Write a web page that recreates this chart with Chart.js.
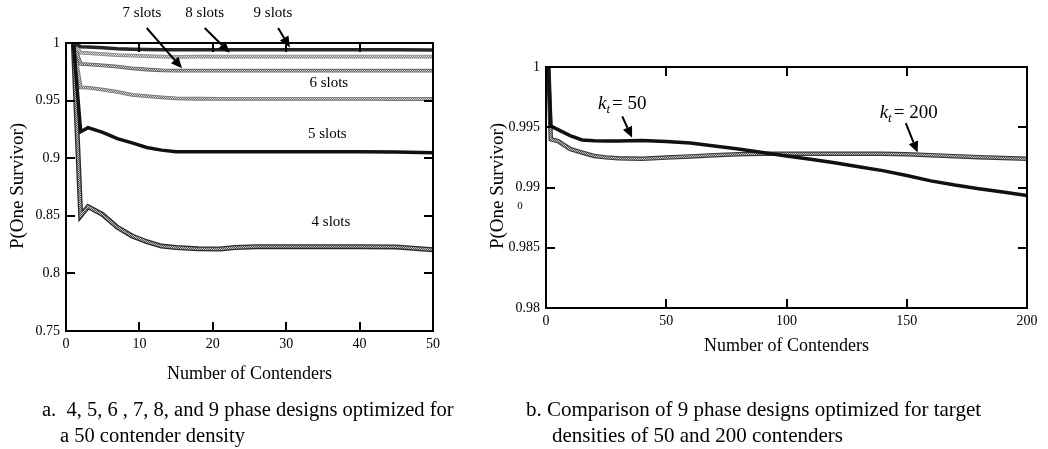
<!DOCTYPE html>
<html>
<head>
<meta charset="utf-8">
<script src="https://cdn.jsdelivr.net/npm/chart.js@4/dist/chart.umd.min.js"></script>
<style>
  html, body { margin: 0; padding: 0; background: #fff; }
  body { width: 1048px; height: 449px; position: relative; overflow: hidden; font-family: "Liberation Serif", "Times New Roman", serif; color: #000; }
  .box { position: absolute; }
  .cap { position: absolute; font-size: 20.5px; white-space: pre; line-height: 26px; }
  .capb { font-size: 21px; }
</style>
</head>
<body>
<div class="box" id="boxA" style="left:0;top:0;width:524px;height:449px;"><canvas id="chartA"></canvas></div>
<div class="box" id="boxB" style="left:480px;top:0;width:568px;height:449px;"><canvas id="chartB"></canvas></div>
<div class="cap" style="left:42px;top:396px;">a.  4, 5, 6 , 7, 8, and 9 phase designs optimized for</div>
<div class="cap" style="left:60px;top:422px;">a 50 contender density</div>
<div class="cap capb" style="left:526px;top:396px;">b. Comparison of 9 phase designs optimized for target</div>
<div class="cap capb" style="left:552px;top:422px;">densities of 50 and 200 contenders</div>
<script>
// ---------- Chart a data ----------
const contendersA = [1, 2, 3, 5, 7, 9, 11, 13, 15, 18, 21, 23, 26, 30, 35, 40, 45, 50];
const slots4 = [1, 0.850, 0.858, 0.851, 0.840, 0.8325, 0.8275, 0.8237, 0.8225, 0.8213, 0.8212, 0.8225, 0.8232, 0.8232, 0.8232, 0.8232, 0.8230, 0.8205];
const slots5 = [1, 0.923, 0.9265, 0.9225, 0.917, 0.9133, 0.9093, 0.907, 0.9057, 0.9055, 0.9055, 0.9055, 0.9055, 0.9055, 0.9055, 0.9055, 0.9053, 0.9048];
const slots6 = [1, 0.9615, 0.9612, 0.9595, 0.9575, 0.955, 0.9538, 0.9528, 0.952, 0.9516, 0.9515, 0.9515, 0.9515, 0.9515, 0.9515, 0.9515, 0.9514, 0.9514];
const slots7 = [1, 0.9818, 0.9815, 0.9805, 0.9795, 0.978, 0.977, 0.9763, 0.976, 0.976, 0.976, 0.976, 0.976, 0.976, 0.976, 0.976, 0.976, 0.976];
const slots8 = [1, 0.9916, 0.9912, 0.9903, 0.9895, 0.989, 0.9886, 0.9882, 0.988, 0.9881, 0.9882, 0.9882, 0.9882, 0.9882, 0.9882, 0.9882, 0.9882, 0.9882];
const slots9 = [1, 0.9968, 0.9965, 0.9958, 0.995, 0.9946, 0.9944, 0.9942, 0.9942, 0.9942, 0.9942, 0.9942, 0.9942, 0.9942, 0.9942, 0.9942, 0.9941, 0.9940];
const xTicksA = [0, 10, 20, 30, 40, 50];
const yTicksA = [0.75, 0.8, 0.85, 0.9, 0.95, 1];
const yLabelsA = ["0.75", "0.8", "0.85", "0.9", "0.95", "1"];

// ---------- Chart b data ----------
const contendersB = [1, 2, 5, 10, 15, 20, 25, 30, 40, 50, 60, 70, 80, 90, 100, 110, 120, 130, 140, 150, 160, 170, 180, 190, 200];
const kt50 = [1, 0.9951, 0.9948, 0.9943, 0.99395, 0.99388, 0.99385, 0.99386, 0.9939, 0.99382, 0.9937, 0.99345, 0.9932, 0.9929, 0.99262, 0.99235, 0.99205, 0.99172, 0.9914, 0.9910, 0.99055, 0.9902, 0.9899, 0.98962, 0.98933];
const kt200 = [1, 0.9940, 0.99385, 0.9932, 0.9929, 0.99262, 0.9925, 0.99242, 0.99238, 0.99248, 0.99258, 0.99268, 0.99276, 0.9928, 0.9928, 0.9928, 0.9928, 0.9928, 0.9928, 0.99276, 0.99268, 0.9926, 0.99252, 0.99245, 0.99238];
const xTicksB = [0, 50, 100, 150, 200];
const yTicksB = [0.98, 0.985, 0.99, 0.995, 1];
const yLabelsB = ["0.98", "0.985", "0.99", "0.995", "1"];

const FONT = '"Liberation Serif", "Times New Roman", serif';
Chart.defaults.font.family = FONT;
Chart.defaults.color = '#000';

function dither(c1, c2) {
  const p = document.createElement('canvas');
  p.width = 2; p.height = 2;
  const g = p.getContext('2d');
  g.fillStyle = c1; g.fillRect(0, 0, 2, 2);
  g.fillStyle = c2; g.fillRect(0, 0, 1, 1); g.fillRect(1, 1, 1, 1);
  return g.createPattern(p, 'repeat');
}
const pts = (xs, ys) => xs.map((x, i) => ({ x: x, y: ys[i] }));

function solid(xs, ys, color, w, order) {
  return { data: pts(xs, ys), borderColor: color, borderWidth: w, pointRadius: 0, tension: 0, order: order, fill: false };
}
function grayLine(xs, ys, edge, inner, ew, iw, order) {
  return [solid(xs, ys, edge, ew, order + 0.5), solid(xs, ys, inner, iw, order)];
}

function frameAndTicks(chart, xTicks, yTicks) {
  const { ctx, chartArea: a, scales: { x, y } } = chart;
  ctx.save();
  ctx.strokeStyle = '#000';
  ctx.lineWidth = 2;
  ctx.strokeRect(a.left, a.top, a.right - a.left, a.bottom - a.top);
  const L = 9;
  ctx.beginPath();
  xTicks.forEach(v => {
    const px = Math.round(x.getPixelForValue(v));
    if (px <= a.left + 2 || px >= a.right - 2) return;
    ctx.moveTo(px, a.top); ctx.lineTo(px, a.top + L);
    ctx.moveTo(px, a.bottom); ctx.lineTo(px, a.bottom - L);
  });
  yTicks.forEach(v => {
    const py = Math.round(y.getPixelForValue(v));
    if (py <= a.top + 2 || py >= a.bottom - 2) return;
    ctx.moveTo(a.left, py); ctx.lineTo(a.left + L, py);
    ctx.moveTo(a.right, py); ctx.lineTo(a.right - L, py);
  });
  ctx.stroke();
  ctx.restore();
}

function arrow(ctx, x1, y1, x2, y2) {
  const ang = Math.atan2(y2 - y1, x2 - x1);
  const hl = 11, hw = 5;
  const bx = x2 - hl * Math.cos(ang), by = y2 - hl * Math.sin(ang);
  ctx.save();
  ctx.strokeStyle = '#000'; ctx.fillStyle = '#000'; ctx.lineWidth = 2;
  ctx.beginPath(); ctx.moveTo(x1, y1); ctx.lineTo(bx, by); ctx.stroke();
  ctx.beginPath();
  ctx.moveTo(x2, y2);
  ctx.lineTo(bx + hw * Math.sin(ang), by - hw * Math.cos(ang));
  ctx.lineTo(bx - hw * Math.sin(ang), by + hw * Math.cos(ang));
  ctx.closePath(); ctx.fill();
  ctx.restore();
}

function text(ctx, s, x, y, size, align, style) {
  ctx.save();
  ctx.font = (style || '') + ' ' + size + 'px ' + FONT;
  ctx.fillStyle = '#000';
  ctx.textAlign = align || 'center';
  ctx.textBaseline = 'middle';
  ctx.fillText(s, x, y);
  ctx.restore();
}
function vtext(ctx, s, x, y, size) {
  ctx.save();
  ctx.translate(x, y); ctx.rotate(-Math.PI / 2);
  ctx.font = size + 'px ' + FONT;
  ctx.fillStyle = '#000';
  ctx.textAlign = 'center'; ctx.textBaseline = 'middle';
  ctx.fillText(s, 0, 0);
  ctx.restore();
}
function ktLabel(ctx, value, cx, cy) {
  ctx.save();
  ctx.fillStyle = '#000';
  ctx.textBaseline = 'alphabetic';
  const fk = 'italic 19px ' + FONT, ft = 'italic 13px ' + FONT, fr = '19px ' + FONT;
  ctx.font = fk; const wk = ctx.measureText('k').width;
  ctx.font = ft; const wt = ctx.measureText('t').width;
  ctx.font = fr; const rest = '= ' + value; const wr = ctx.measureText(rest).width;
  const total = wk + wt + 2 + wr;
  let x = cx - total / 2; const base = cy + 6;
  ctx.font = fk; ctx.fillText('k', x, base); x += wk;
  ctx.font = ft; ctx.fillText('t', x, base + 4); x += wt + 2;
  ctx.font = fr; ctx.fillText(rest, x, base);
  ctx.restore();
}

function scaleOpts(min, max, ticks, labels, isY, fixed) {
  return {
    type: 'linear', min: min, max: max,
    grid: { display: false, drawTicks: false },
    border: { display: false },
    ticks: {
      font: { size: 14 }, color: '#000', padding: isY ? 6 : 5,
      autoSkip: false, maxRotation: 0,
      callback: (v) => { const i = ticks.indexOf(v); return labels ? (i >= 0 ? labels[i] : '') : String(v); }
    },
    afterBuildTicks: (s) => { s.ticks = ticks.map(v => ({ value: v })); },
    afterFit: (s) => { if (isY) s.width = fixed; else s.height = fixed; }
  };
}

const ctxA = document.getElementById('chartA').getContext('2d');
const setA = [
  ...grayLine(contendersA, slots8, '#8a8a8a', dither('#8a8a8a', '#d8d8d8'), 3.8, 2, 6),
  solid(contendersA, slots9, '#262626', 3.5, 1),
  ...grayLine(contendersA, slots7, '#6a6a6a', dither('#666', '#cccccc'), 3.8, 2, 7),
  ...grayLine(contendersA, slots6, '#7a7a7a', dither('#777', '#d2d2d2'), 3.8, 2, 8),
  solid(contendersA, slots5, '#111', 3.5, 2),
  ...grayLine(contendersA, slots4, '#2a2a2a', dither('#555', '#c4c4c4'), 5, 2.4, 3)
];

new Chart(ctxA, {
  type: 'line',
  data: { datasets: setA },
  options: {
    responsive: true, maintainAspectRatio: false, animation: false,
    layout: { padding: { left: 0, top: 43, right: 91, bottom: 88 } },
    plugins: { legend: { display: false }, tooltip: { enabled: false } },
    scales: {
      x: scaleOpts(0, 50, xTicksA, null, false, 30),
      y: scaleOpts(0.75, 1, yTicksA, yLabelsA, true, 66)
    }
  },
  plugins: [{
    id: 'decorA',
    afterDatasetsDraw(chart) {
      const { ctx, chartArea: a, scales: { x, y } } = chart;
      frameAndTicks(chart, xTicksA, yTicksA);
      const P = (vx, vy) => [x.getPixelForValue(vx), y.getPixelForValue(vy)];
      let p;
      p = P(10.35, 1.026); text(ctx, '7 slots', p[0], p[1], 15);
      p = P(18.9, 1.026); text(ctx, '8 slots', p[0], p[1], 15);
      p = P(28.2, 1.026); text(ctx, '9 slots', p[0], p[1], 15);
      p = P(35.8, 0.9653); text(ctx, '6 slots', p[0], p[1], 15);
      p = P(35.6, 0.921); text(ctx, '5 slots', p[0], p[1], 15);
      p = P(36.1, 0.8446); text(ctx, '4 slots', p[0], p[1], 15);
      let s, e;
      s = P(11.0, 1.013); e = P(15.8, 0.978); arrow(ctx, s[0], s[1], e[0], e[1]);
      s = P(18.9, 1.013); e = P(22.3, 0.9915); arrow(ctx, s[0], s[1], e[0], e[1]);
      s = P(28.9, 1.013); e = P(30.5, 0.9962); arrow(ctx, s[0], s[1], e[0], e[1]);
      text(ctx, 'Number of Contenders', (a.left + a.right) / 2, a.bottom + 43, 18);
      vtext(ctx, 'P(One Survivor)', 18, 186, 19);
    }
  }]
});

const ctxB = document.getElementById('chartB').getContext('2d');
const setB = [
  solid(contendersB, kt50, '#111', 3.5, 1),
  ...grayLine(contendersB, kt200, '#3a3a3a', dither('#555', '#c8c8c8'), 4.5, 2.2, 2)
];

new Chart(ctxB, {
  type: 'line',
  data: { datasets: setB },
  options: {
    responsive: true, maintainAspectRatio: false, animation: false,
    layout: { padding: { left: 0, top: 67, right: 21, bottom: 111 } },
    plugins: { legend: { display: false }, tooltip: { enabled: false } },
    scales: {
      x: scaleOpts(0, 200, xTicksB, null, false, 30),
      y: scaleOpts(0.98, 1, yTicksB, yLabelsB, true, 66)
    }
  },
  plugins: [{
    id: 'decorB',
    afterDatasetsDraw(chart) {
      const { ctx, chartArea: a, scales: { x, y } } = chart;
      frameAndTicks(chart, xTicksB, yTicksB);
      const P = (vx, vy) => [x.getPixelForValue(vx), y.getPixelForValue(vy)];
      let p, s, e;
      p = P(31.7, 0.99698); ktLabel(ctx, '50', p[0], p[1]);
      p = P(150.8, 0.99623); ktLabel(ctx, '200', p[0], p[1]);
      s = P(31.7, 0.9959); e = P(35.8, 0.99413); arrow(ctx, s[0], s[1], e[0], e[1]);
      s = P(149.6, 0.99535); e = P(154.5, 0.9929); arrow(ctx, s[0], s[1], e[0], e[1]);
      text(ctx, 'Number of Contenders', (a.left + a.right) / 2, a.bottom + 38, 18);
      vtext(ctx, 'P(One Survivor)', 18, 186, 19);
      text(ctx, '0', 40, 206, 11);
    }
  }]
});
</script>
</body>
</html>
